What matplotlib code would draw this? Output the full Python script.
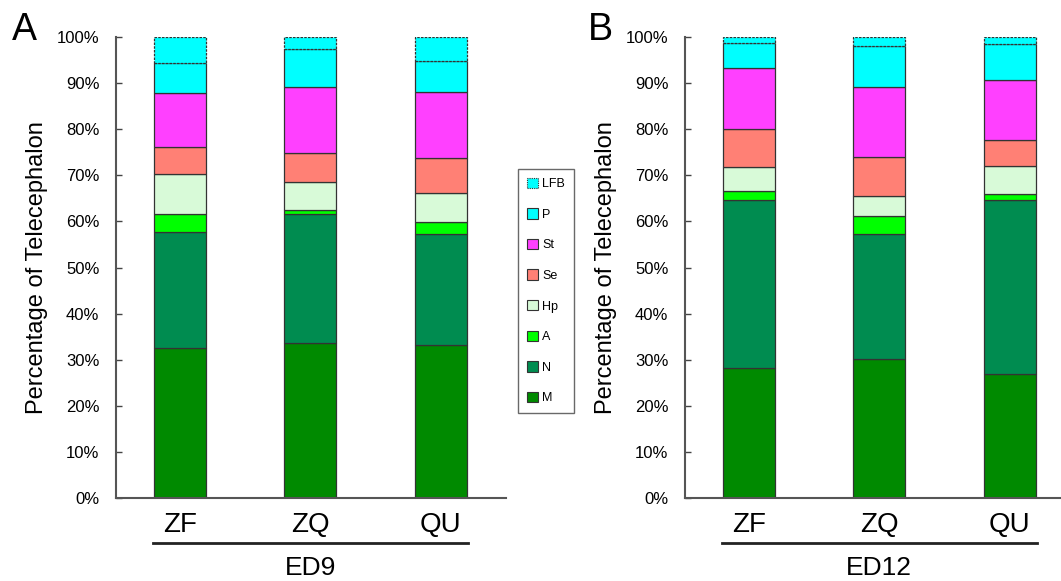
import matplotlib
matplotlib.use("Agg")
import matplotlib.pyplot as plt
import matplotlib.transforms as mtransforms
from matplotlib.patches import Patch
import numpy as np

plt.rcParams['font.family'] = ['Liberation Sans', 'DejaVu Sans']

groups = ["ZF", "ZQ", "QU"]
panels = ["ED9", "ED12"]
panel_letters = ["A", "B"]
segments = ["M", "N", "A", "Hp", "Se", "St", "P", "LFB"]
colors = ["#008a00", "#008c50", "#00ff00", "#d8fad8", "#ff8075", "#ff40ff", "#00ffff", "#00ffff"]

# percentages per segment (bottom to top) for ZF, ZQ, QU
ed9_M   = [32.6, 33.6, 33.2]
ed9_N   = [25.2, 27.9, 24.0]
ed9_A   = [3.7, 1.0, 2.6]
ed9_Hp  = [8.7, 6.1, 6.4]
ed9_Se  = [6.0, 6.2, 7.6]
ed9_St  = [11.6, 14.4, 14.3]
ed9_P   = [6.5, 8.2, 6.7]
ed9_LFB = [5.7, 2.6, 5.2]

ed12_M   = [28.1, 30.2, 27.0]
ed12_N   = [36.5, 27.0, 37.7]
ed12_A   = [2.1, 4.0, 1.2]
ed12_Hp  = [5.2, 4.4, 6.2]
ed12_Se  = [8.1, 8.4, 5.5]
ed12_St  = [13.2, 15.2, 13.1]
ed12_P   = [5.4, 8.9, 7.7]
ed12_LFB = [1.4, 1.9, 1.6]

ytick_vals = [0, 10, 20, 30, 40, 50, 60, 70, 80, 90, 100]
ytick_labels = [f"{v}%" for v in ytick_vals]

data = [
    [ed9_M, ed9_N, ed9_A, ed9_Hp, ed9_Se, ed9_St, ed9_P, ed9_LFB],
    [ed12_M, ed12_N, ed12_A, ed12_Hp, ed12_Se, ed12_St, ed12_P, ed12_LFB],
]

W, H = 1061, 581
fig = plt.figure(figsize=(W / 100, H / 100), dpi=100)

axes_px = [(116, 498, 390, 461), (685, 498, 390, 461)]
letter_px = [(12, 30), (588, 30)]

x = np.arange(len(groups))
for pi, (ax_l, ax_b, ax_w, ax_h) in enumerate(axes_px):
    ax = fig.add_axes([ax_l / W, (H - ax_b) / H, ax_w / W, ax_h / H])
    bottom = np.zeros(len(groups))
    for si, seg in enumerate(segments):
        vals = np.array(data[pi][si])
        if seg == "LFB":
            ax.bar(x, vals, width=0.4, bottom=bottom, color=colors[si],
                   edgecolor="#333333", linewidth=0.9, linestyle=(0, (2, 1)))
        else:
            ax.bar(x, vals, width=0.4, bottom=bottom, color=colors[si],
                   edgecolor="#333333", linewidth=0.9)
        bottom += vals
    ax.set_xlim(-0.49, 2.5)
    ax.set_ylim(0, 100)
    ax.set_yticks(ytick_vals)
    ax.set_yticklabels(ytick_labels, fontsize=12)
    ax.tick_params(axis='y', direction='in', length=4, width=1, pad=12, colors="#444444",
                   labelcolor="black")
    ax.set_xticks(x)
    ax.set_xticklabels(groups, fontsize=20)
    ax.tick_params(axis='x', length=0, pad=10)
    for s in ["top", "right"]:
        ax.spines[s].set_visible(False)
    for s in ["left", "bottom"]:
        ax.spines[s].set_color("#555555")
        ax.spines[s].set_linewidth(1.5)
    ax.set_ylabel("Percentage of Telecephalon", fontsize=17, labelpad=6)
    # group underline and label
    trans = mtransforms.blended_transform_factory(ax.transData, fig.transFigure)
    ax.plot([-0.21, 2.21], [(H - 543) / H] * 2, transform=trans, color="#222222",
            linewidth=2, clip_on=False)
    ax.text(1, (H - 568) / H, panels[pi], transform=trans, ha="center", va="center",
            fontsize=19)
    fig.text(letter_px[pi][0] / W, (H - letter_px[pi][1]) / H, panel_letters[pi],
             fontsize=27, ha="left", va="center")

handles = []
for si in range(len(segments) - 1, -1, -1):
    if segments[si] == "LFB":
        handles.append(Patch(facecolor=colors[si], edgecolor="#333333", linestyle=(0, (1, 1)),
                             linewidth=0.8))
    else:
        handles.append(Patch(facecolor=colors[si], edgecolor="#333333", linewidth=0.8))
labels = segments[::-1]
leg = fig.legend(handles, labels, loc="center", bbox_to_anchor=(546 / W, (H - 291) / H),
                 fontsize=9, frameon=True, fancybox=False, edgecolor="#444444",
                 handlelength=0.9, handleheight=0.9, handletextpad=0.3,
                 labelspacing=1.45, borderpad=0.7)
leg.get_frame().set_linewidth(1.0)

fig.savefig("out.png", dpi=100)
